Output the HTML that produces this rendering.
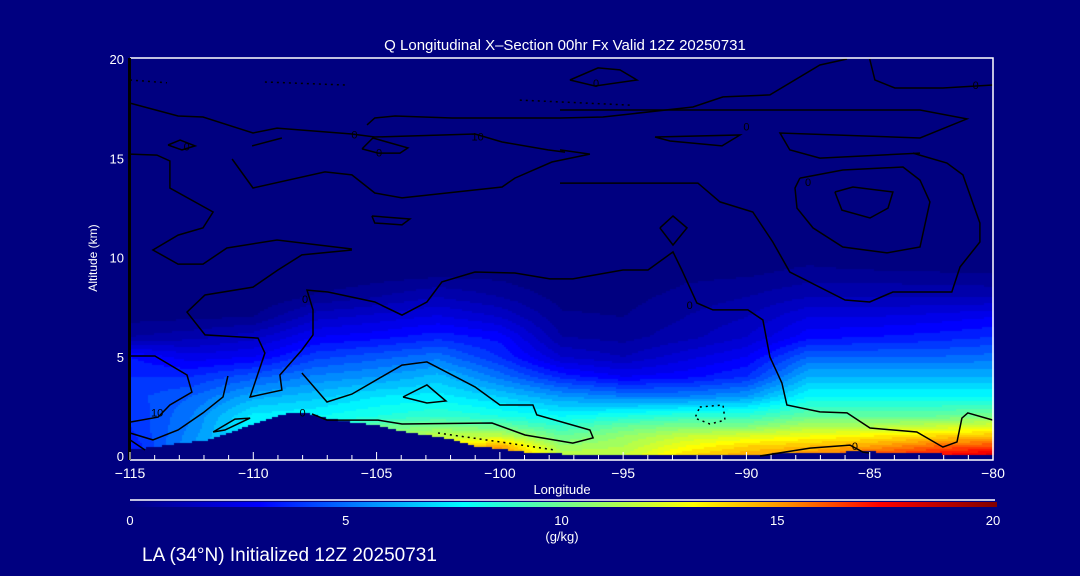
<!DOCTYPE html>
<html><head><meta charset="utf-8">
<style>
html,body{margin:0;padding:0;background:#000080;width:1080px;height:576px;overflow:hidden}
#wrap{position:relative;width:1080px;height:576px;font-family:"Liberation Sans",sans-serif;color:#fff}
canvas{position:absolute;left:0;top:0}
svg{position:absolute;left:0;top:0}
</style></head>
<body>
<div id="wrap">
<canvas id="field" width="1080" height="576"></canvas>
<svg id="ov" width="1080" height="576">
<defs><linearGradient id="cbg" x1="0" x2="1" y1="0" y2="0"></linearGradient></defs>
<text x="565" y="50" font-size="15" fill="#fff" text-anchor="middle">Q Longitudinal X–Section 00hr  Fx Valid 12Z 20250731</text>
<g id="contours"></g>
<g id="axes"></g>
<text x="97" y="258" font-size="12" fill="#fff" text-anchor="middle" transform="rotate(-90 97 258)">Altitude (km)</text>
<text x="562" y="494" font-size="13" fill="#fff" text-anchor="middle">Longitude</text>
<line x1="130" y1="500" x2="995" y2="500" stroke="#fff" stroke-width="1.5"/>
<rect x="130" y="502" width="867" height="5" fill="url(#cbg)"/>
<g id="cbticks"></g>
<text x="562" y="541" font-size="13" fill="#fff" text-anchor="middle">(g/kg)</text>
<text x="142" y="561" font-size="19" fill="#fff">LA (34°N) Initialized 12Z 20250731</text>
</svg>
</div>
<script>
// ---- data ----
const lons = [-115,-112.5,-110,-107.5,-105,-102.5,-100,-97.5,-95,-92.5,-90,-87.5,-85,-82.5,-80];
const altLevels = [0,0.5,1,1.5,2,3,4,5,6,7,8,9,10,11];
const qGrid = [
 [3.5,3.5,3.8,4,4,4.3,4,3.5,1,0.3,0,0,0,0],
 [6,6,5.8,5.6,5.5,5,4,2.7,1.3,0.4,0,0,0,0],
 [8,8,8,8,7.7,6.3,4.8,3,1.8,0.5,0,0,0,0],
 [8,8,8,8,8,6.8,5.6,4.3,3,1.8,0.6,0,0,0],
 [11,11,11,10,8.5,7.5,6,4.8,3.3,2.2,1,0.3,0,0],
 [13,13,12,10.5,9,7.7,6.7,5.3,3.8,2.6,1.5,0.5,0,0],
 [16,15,12,10,8.5,7,5.3,4,3.3,2,1,0.4,0,0],
 [12,11,10,9,8,6,3.8,2,1,0.6,0.3,0,0,0],
 [12,11.5,11,10,8.5,5.5,3,1.5,0.8,0.5,0.3,0,0,0],
 [14,13,12,10.5,9,5.5,3.3,2.3,1.3,1,0.7,0.4,0,0],
 [15,14,12.5,10.5,9,6,4,3,2,1.5,1,0.5,0,0],
 [15.5,14.5,13,11.5,10,8,6.5,5,3.3,2.5,1.5,0.8,0.3,0],
 [16.5,15,13.5,11.5,10,8,6.5,5,3.5,2.5,1.5,0.8,0,0],
 [17.5,16,14,12,10,8,6.5,5,3.7,2.7,1.5,0.7,0,0],
 [18.5,16.5,14.5,12.5,10.5,8,6.5,5.2,4,3,1.5,0.6,0,0]
];
const terrainLon = [-115,-114,-113,-112,-111,-110,-109,-108.5,-108,-107,-106,-105,-104,-103,-102,-101,-100,-99,-98,-97,-96,-95,-90,-88,-86,-85,-84,-82,-80];
const terrainAlt = [0.3,0.45,0.65,0.75,1.15,1.6,2.0,2.2,2.2,1.9,1.7,1.55,1.25,1.05,0.85,0.5,0.35,0.2,0.12,0.08,0.06,0.05,0.08,0.12,0.2,0.22,0.15,0.1,0.08];
const xTicks = [-115,-110,-105,-100,-95,-90,-85,-80];
const xTickLabels = ["−115","−110","−105","−100","−95","−90","−85","−80"];
const yTicks = [0,5,10,15,20];
const cbTicks = [0,5,10,15,20];
const cA = [[-115,17.78],[-113.05,17.13],[-112.04,17.08],[-110.01,16.27],[-109.04,16.52],[-106,16.22],[-105.07,16.07],[-101.01,16.22],[-99.91,15.82],[-98.05,15.42],[-97.36,15.31]];
const cB = [[-105.39,16.68],[-105.07,17.03],[-104.25,17.13],[-101.94,17.03],[-97.56,17.03],[-95.82,17.08],[-92.17,17.58],[-90.95,18.09],[-89.05,18.19],[-87.02,19.7],[-85.92,20]];
const cC = [[-97.56,17.43],[-82.96,17.43],[-81.06,16.98],[-82.96,16.02],[-88.64,16.27],[-88.24,15.42],[-87.02,15.01],[-82.96,15.26]];
const cD = [[-115,15.21],[-113.91,15.16],[-113.38,14.86],[-113.38,13.5],[-111.63,12.29],[-112.04,11.49],[-113.05,11.13],[-114.07,10.38],[-113.05,9.67],[-112.04,9.67],[-111.07,10.48],[-109.04,10.88],[-106,10.43]];
const cE = [[-110.86,14.96],[-110.01,13.5],[-107.09,14.31],[-106,14.16],[-105.07,13.25],[-103.97,13],[-99.91,13.55],[-99.39,14],[-97.89,14.81],[-96.35,15.21],[-97.56,15.42]];
const cF = [[-97.56,13.75],[-91.97,13.75],[-91.07,12.8],[-89.74,12.29],[-88.93,10.78],[-88.24,9.27],[-86,7.86],[-85,7.76],[-84.06,8.26],[-81.67,8.26],[-81.34,9.52],[-80.53,10.78],[-80.53,11.74],[-81.22,14.16],[-81.87,14.76],[-83.25,15.26]];
const cG = [[-85,20],[-84.79,18.94],[-83.98,18.54],[-82.03,18.54],[-80,18.69]];
const cH = [[-87.83,14],[-86.09,14.41],[-83.65,14.56],[-82.96,13.9],[-82.56,12.8],[-82.96,10.53],[-84.3,10.23],[-86.09,10.53],[-87.3,11.49],[-87.95,12.49],[-88.03,13.5],[-87.83,14]];
const cI = [[-86.41,13.3],[-85.68,13.55],[-84.06,13.3],[-84.26,12.49],[-84.99,11.99],[-86.13,12.39],[-86.41,13.3]];
const cJ = [[-106,10.38],[-108.03,10.13],[-109,9.37],[-110.01,8.51],[-111.96,8.11],[-112.69,7.25],[-111.96,6.1],[-109.81,5.94],[-109.53,5.19],[-110.13,2.97],[-108.84,3.32],[-108.92,4.08],[-108.03,5.34],[-107.58,6.1],[-107.58,7.36],[-107.82,8.36],[-106.97,8.26],[-105.07,7.76],[-103.97,7.1],[-102.96,7.76],[-102.35,8.77],[-101.01,9.27],[-99.39,9.22],[-97.97,8.92],[-97.04,8.92],[-95.01,9.37],[-93.99,9.37],[-92.98,10.28],[-92.62,9.37],[-92.01,7.71],[-91.36,7.36],[-89.94,7.36],[-89.33,6.85],[-89.05,4.99],[-88.56,3.68],[-88.36,2.57],[-87.02,2.22],[-85.92,2.17],[-84.99,1.41],[-83.09,1.21],[-82.03,0.45],[-81.46,0.71],[-81.26,1.91],[-81.02,2.17],[-80,1.81]];
const cK = [[-115,5.04],[-113.99,5.04],[-112.69,4.08],[-112.49,3.22],[-113.38,2.57],[-113.86,1.96],[-115,1.71]];
const cL = [[-115,1.16],[-114.07,0.81],[-113.05,1.31],[-112.04,2.17],[-111.23,2.97],[-111.03,4.03]];
const cM = [[-115,0.81],[-114.39,0.3]];
const cN = [[-108.03,4.18],[-107.01,2.72],[-106,3.12],[-103.97,4.58],[-102.96,4.74],[-101.01,3.48],[-100,2.57],[-98.66,2.57],[-98.5,2.07],[-96.35,1.31],[-96.22,0.91],[-97.04,0.65],[-98.98,1.06],[-100.32,1.66],[-103.97,1.61],[-104.94,1.81],[-107.01,1.81],[-107.62,2.12]];
const cO = [[-103.93,2.97],[-102.96,3.58],[-102.19,2.77],[-102.96,2.67],[-103.93,2.97]];
const cP = [[-111.63,1.21],[-110.74,1.86],[-110.13,1.91],[-111.15,1.31],[-111.63,1.21]];
const cQ = [[-89.45,0],[-87.42,0.4],[-85.8,0.55],[-85.28,0.2],[-85,0.15]];
const cR = [[-93.51,11.49],[-92.98,12.09],[-92.41,11.49],[-92.98,10.63],[-93.51,11.49]];
const cS = [[-97.16,18.94],[-96.02,19.55],[-95.13,19.45],[-94.44,18.94],[-96.14,18.64],[-97.16,18.94]];
const cT = [[-93.71,16.07],[-90.26,16.17],[-90.99,15.62],[-93.1,15.87],[-93.71,16.07]];
const cU = [[-113.46,15.67],[-112.97,15.92],[-112.36,15.62],[-112.89,15.42],[-113.46,15.67]];
const cV = [[-105.59,15.47],[-105.15,16.02],[-103.73,15.52],[-104.05,15.26],[-104.94,15.26],[-105.59,15.47]];
const cW = [[-105.19,12.09],[-103.65,11.94],[-103.97,11.64],[-105.07,11.74],[-105.19,12.09]];
const cX = [[-110.05,15.62],[-108.84,16.02]];
const solidContours = [cA,cB,cC,cD,cE,cF,cG,cH,cI,cJ,cK,cL,cM,cN,cO,cP,cQ,cR,cS,cT,cU,cV,cW,cX];
const dRing = [[-91.89,2.47],[-90.95,2.57],[-90.87,1.81],[-91.48,1.61],[-92.09,1.91],[-91.89,2.47]];
const dTerr = [[-102.51,1.16],[-100,0.71],[-97.77,0.3]];
const dTop1 = [[-115,18.94],[-113.5,18.8]];
const dTop2 = [[-109.53,18.84],[-106.28,18.69]];
const dTop3 = [[-99.19,17.93],[-94.72,17.68]];
const dashedContours = [dRing,dTerr,dTop1,dTop2,dTop3];
const labelPos = [[-105.9,16.2,"0"],[-104.9,15.3,"0"],[-112.7,15.6,"0"],[-96.1,18.8,"0"],[-90,16.6,"0"],[-92.3,7.6,"0"],[-85.6,0.5,"0"],[-108,2.2,"0"],[-80.7,18.7,"0"],[-87.5,13.8,"0"],[-107.9,7.9,"0"],[-113.9,2.2,"10"],[-100.9,16.1,"10"]];

// ---- scales ----
const X0=130,X1=993,Y0=456,Y1=59;
function xs(lon){return X0+(lon+115)/35*(X1-X0);}
function ys(a){return Y0-a/20*(Y0-Y1);}
function invX(px){return -115+(px-X0)/(X1-X0)*35;}
function invY(py){return (Y0-py)/(Y0-Y1)*20;}

const stops=[[0,[0,0,128]],[3,[0,0,255]],[5.3,[0,128,255]],[7.7,[0,255,255]],[10.3,[128,255,128]],[13,[255,255,0]],[15.2,[255,140,0]],[17.3,[255,0,0]],[20,[128,0,0]]];
function cmap(v){
  v=Math.max(0,Math.min(20,v));
  for(let i=0;i<stops.length-1;i++){const a=stops[i],b=stops[i+1];
    if(v<=b[0]){const t=(v-a[0])/(b[0]-a[0]);return a[1].map((c,k)=>Math.round(c+(b[1][k]-c)*t));}}
  return stops[stops.length-1][1];
}
function interp1(xa,ya,x){
  if(x<=xa[0])return ya[0];
  for(let i=0;i<xa.length-1;i++){if(x<=xa[i+1]){const t=(x-xa[i])/(xa[i+1]-xa[i]);return ya[i]+(ya[i+1]-ya[i])*t;}}
  return ya[ya.length-1];
}
function qAt(lon,alt){
  if(alt>=altLevels[altLevels.length-1])return 0;
  let i=0;while(i<lons.length-2&&lon>lons[i+1])i++;
  const t=Math.max(0,Math.min(1,(lon-lons[i])/(lons[i+1]-lons[i])));
  const a=interp1(altLevels,qGrid[i],alt),b=interp1(altLevels,qGrid[i+1],alt);
  return a+(b-a)*t;
}
const ctx=document.getElementById('field').getContext('2d');
for(let px=X0;px<X1;px+=2){
  const lon=invX(px+1);
  const th=interp1(terrainLon,terrainAlt,lon);
  for(let py=Y1;py<Y0;py+=2){
    const alt=invY(py+1);
    if(alt<th)continue;
    let v=qAt(lon,alt);
    v=Math.floor(v*2)/2;
    const c=cmap(v);
    ctx.fillStyle='rgb('+c[0]+','+c[1]+','+c[2]+')';
    ctx.fillRect(px,py,2,2);
  }
}
const NS='http://www.w3.org/2000/svg';
function mk(tag,attrs,parent){const e=document.createElementNS(NS,tag);for(const k in attrs)e.setAttribute(k,attrs[k]);parent.appendChild(e);return e;}
const cg=document.getElementById('contours');
solidContours.forEach(c=>{
  const p=mk('polyline',{points:c.map(d=>xs(d[0]).toFixed(1)+','+ys(d[1]).toFixed(1)).join(' '),fill:'none',stroke:'#000','stroke-width':1.5},cg);
  
  
});
dashedContours.forEach(c=>{
  const p=mk('polyline',{points:c.map(d=>xs(d[0]).toFixed(1)+','+ys(d[1]).toFixed(1)).join(' '),fill:'none',stroke:'#000','stroke-width':1.5,'stroke-dasharray':'2 4'},cg);
  
  
});
labelPos.forEach(l=>{
  const t=mk('text',{x:xs(l[0]),y:ys(l[1])+4,'font-size':11,fill:'#000','text-anchor':'middle'},cg);
  t.textContent=l[2];
  
  
});
const ag=document.getElementById('axes');
const frame=mk('polyline',{points:X0+',58 '+X1+',58 '+X1+',460 '+X0+',460',fill:'none',stroke:'#fff','stroke-width':1.5},ag);


const leftAx=mk('line',{x1:129.5,y1:58,x2:129.5,y2:460,stroke:'#000','stroke-width':3},ag);


for(let lon=-115;lon<=-80;lon++){
  const major=xTicks.indexOf(lon)>=0;
  const tk=mk('line',{x1:xs(lon),x2:xs(lon),y1:460,y2:major?452:455,stroke:'#fff','stroke-width':1},ag);
  
  
}
xTicks.forEach((v,i)=>{
  const t=mk('text',{x:xs(v),y:478,'font-size':14,fill:'#fff','text-anchor':'middle'},ag);
  t.textContent=xTickLabels[i];
  
  
});
yTicks.forEach(v=>{
  const t=mk('text',{x:124,y:ys(v)+5,'font-size':13,fill:'#fff','text-anchor':'end'},ag);
  t.textContent=String(v);
  
  
});
const grad=document.getElementById('cbg');
stops.forEach(s=>{
  mk('stop',{offset:(s[0]/20*100)+'%','stop-color':'rgb('+s[1].join(',')+')'},grad);
});
const cbt=document.getElementById('cbticks');
cbTicks.forEach(v=>{
  const t=mk('text',{x:130+v/20*863,y:525,'font-size':13,fill:'#fff','text-anchor':'middle'},cbt);
  t.textContent=String(v);
  
  
});
</script>
</body></html>
